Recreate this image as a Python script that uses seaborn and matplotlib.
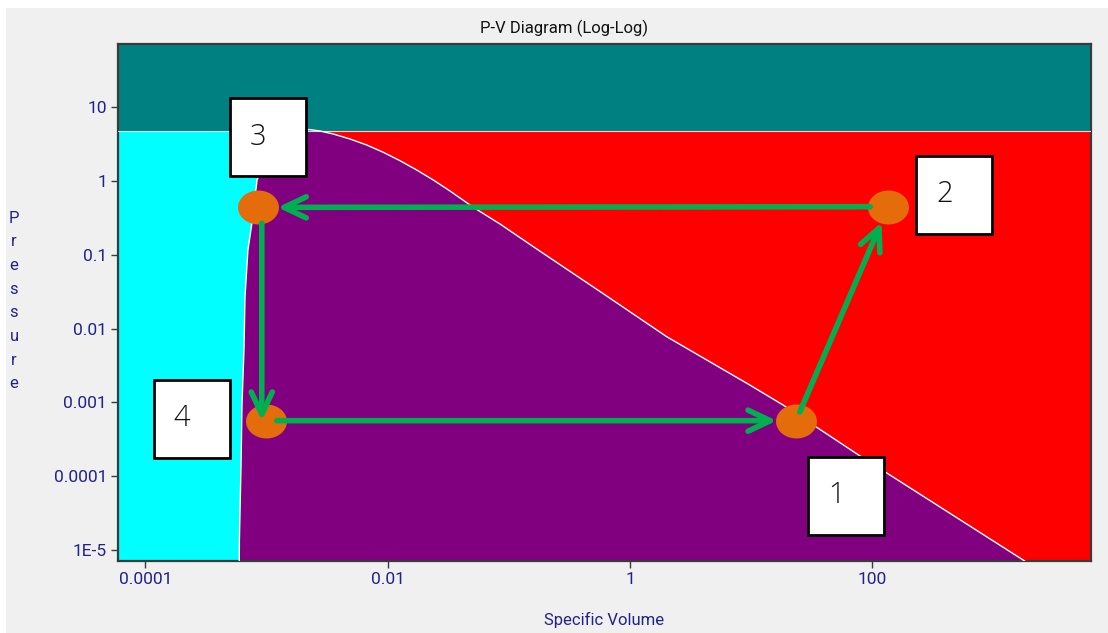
import numpy as np
import matplotlib
matplotlib.use("Agg")
import matplotlib.pyplot as plt
from matplotlib.patches import Rectangle
from matplotlib.path import Path
from matplotlib.transforms import IdentityTransform
import seaborn as sns

# ---- data -------------------------------------------------------------
# saturated liquid line (specific volume, pressure), bottom -> critical point
liquid_v = [5.96e-4, 5.98e-4, 6.17e-4, 6.28e-4, 6.52e-4, 6.65e-4, 7.03e-4,
            7.59e-4, 8.36e-4, 1.05e-3, 1.51e-3, 2.24e-3]
liquid_P = [5.6e-6, 1.38e-5, 1.45e-4, 9.3e-4, 5.1e-3, 0.0269, 0.116,
            0.271, 1.035, 2.5, 4.2, 5.0]

# saturated vapour line, critical point -> bottom
vapor_v = [2.24e-3, 2.762e-3, 3.557e-3, 4.886e-3, 6.709e-3, 9.197e-3, 0.01264,
           0.01735, 0.02377, 0.03266, 0.05085, 0.08445, 0.1590, 0.5675, 2.004,
           9.701, 18.24, 78.9, 1742.0, 2240.0]
vapor_P = [5.0, 4.774, 4.346, 3.720, 3.085, 2.456, 1.889,
           1.414, 1.035, 0.7344, 0.4416, 0.2622, 0.1291, 0.03172, 7.789e-3,
           1.726e-3, 9.25e-4, 1.884e-4, 7.35e-6, 5.6e-6]

critical_P = 4.82

# cycle states
state_labels = ["1", "2", "3", "4"]
state_v = [23.4, 135.0, 8.45e-4, 9.9e-4]
state_P = [5.66e-4, 0.45, 0.44, 5.66e-4]
cycle_order = [3, 0, 1, 2, 3]  # 4 -> 1 -> 2 -> 3 -> 4

x_ticks = [1e-4, 1e-2, 1, 100]
x_tick_labels = ["0.0001", "0.01", "1", "100"]
y_ticks = [10, 1, 0.1, 0.01, 0.001, 0.0001, 1e-5]
y_tick_labels = ["10", "1", "0.1", "0.01", "0.001", "0.0001", "1E-5"]

# ---- style ------------------------------------------------------------
W, H = 1108, 633
sns.set_theme(style="white")
plt.rcParams["font.family"] = ["Roboto", "DejaVu Sans"]

TEAL, CYAN, PURPLE, RED = "#008080", "#00FFFF", "#800080", "#FF0000"
ORANGE, GREEN = "#E46C0A", "#00B050"
NAVY = "#22228C"

fig = plt.figure(figsize=(W / 100, H / 100), dpi=100)
fig.patch.set_facecolor("white")
fig.add_artist(Rectangle((6 / W, 0), 1, 1 - 8 / H, transform=fig.transFigure,
                         facecolor="#F0F0F0", edgecolor="none", zorder=-10))

ax = fig.add_axes([118 / W, 1 - 561 / H, (1091 - 118) / W, (561 - 44) / H])
ax.set_xscale("log")
ax.set_yscale("log")
ax.set_xlim(10 ** -4.225, 10 ** 3.803)
ax.set_ylim(10 ** -5.149, 10 ** 1.858)
ax.set_facecolor(RED)

# compressed liquid region (left of the liquid line)
far_left = 1e-6
cyan_x = [far_left] + liquid_v + [far_left]
cyan_y = [liquid_P[0]] + liquid_P + [liquid_P[-1]]
ax.fill(cyan_x, cyan_y, color=CYAN, lw=0, zorder=1)

# two-phase dome
ax.fill(liquid_v + vapor_v, liquid_P + vapor_P, color=PURPLE, lw=0, zorder=1)

# supercritical band
ax.axhspan(critical_P, 1e4, color=TEAL, lw=0, zorder=2)
ax.axhline(critical_P, color="white", lw=0.8, alpha=0.8, zorder=3)

# dome outline
sns.lineplot(x=liquid_v, y=liquid_P, sort=False, estimator=None, color="white",
             lw=1.0, ax=ax, zorder=3)
sns.lineplot(x=vapor_v, y=vapor_P, sort=False, estimator=None, color="white",
             lw=1.0, ax=ax, zorder=3)

# state markers (ellipses)
t = np.linspace(0, 2 * np.pi, 60)
ellipse = Path(np.column_stack([np.cos(t), 34 / 41 * np.sin(t)]), closed=True)
sns.scatterplot(x=state_v, y=state_P, marker=ellipse, s=870, color=ORANGE,
                linewidth=0, ax=ax, zorder=5, legend=False)

# process arrows; shrink values keep the ends on the marker edges (points)
arrow_style = dict(arrowstyle="->,head_length=0.8,head_width=0.38",
                   mutation_scale=20, color=GREEN, lw=4,
                   capstyle="round", joinstyle="round")
shrinks = [(7.7, 13.9), (6.8, 12.2), (13.0, 14.4), (11.5, 0.0)]
for (a, b), (sa, sb) in zip(zip(cycle_order[:-1], cycle_order[1:]), shrinks):
    start = [state_v[a], state_P[a]]
    end = [state_v[b], state_P[b]]
    if state_labels[a] == "3":
        # constant-volume step drawn vertically at the mean volume
        v_mid = np.sqrt(state_v[a] * state_v[b])
        start[0] = end[0] = v_mid
    ax.annotate("", xy=end, xytext=start,
                arrowprops=dict(arrow_style, shrinkA=sa, shrinkB=sb), zorder=6)

# numbered state boxes (pixel offsets from each state: right, down)
box_offsets = [(50, 75), (66, -12), (10, -70), (-74, -2)]
box_w, box_h = 76, 78
for lab, v, p, (dx, dy) in zip(state_labels, state_v, state_P, box_offsets):
    px, py = ax.transData.transform((v, p))
    cx, cy = px + dx, py - dy
    fig.add_artist(Rectangle((cx - box_w / 2, cy - box_h / 2), box_w, box_h,
                             transform=IdentityTransform(), facecolor="white",
                             edgecolor="black", lw=2, zorder=8))
    fig.text((cx - 10) / W, cy / H, lab, ha="center", va="center",
             fontsize=21, color="#111111", zorder=9,
             family=["Open Sans", "DejaVu Sans"], fontweight="light")

# axes decoration
for s in ax.spines.values():
    s.set_color("#3A3A3A")
    s.set_linewidth(1.6)
    s.set_visible(True)
ax.set_xticks(x_ticks)
ax.set_xticklabels(x_tick_labels)
ax.set_yticks(y_ticks)
ax.set_yticklabels(y_tick_labels)
ax.minorticks_off()
ax.tick_params(axis="both", which="major", direction="out", length=5, width=1,
               color="#3A3A3A", labelcolor=NAVY, labelsize=12.5, pad=3,
               bottom=True, left=True)
ax.set_xlabel("")
ax.set_ylabel("")

fig.text(564 / W, 1 - 28 / H, "P-V Diagram (Log-Log)", ha="center", va="center",
         fontsize=12, color="#111111")
fig.text(604 / W, 1 - 620 / H, "Specific Volume", ha="center", va="center",
         fontsize=12, color=NAVY)
fig.text(14 / W, 1 - 301 / H, "\n".join("Pressure"), ha="center", va="center",
         fontsize=12, color=NAVY, linespacing=1.72)

fig.savefig("out.png", dpi=100)
